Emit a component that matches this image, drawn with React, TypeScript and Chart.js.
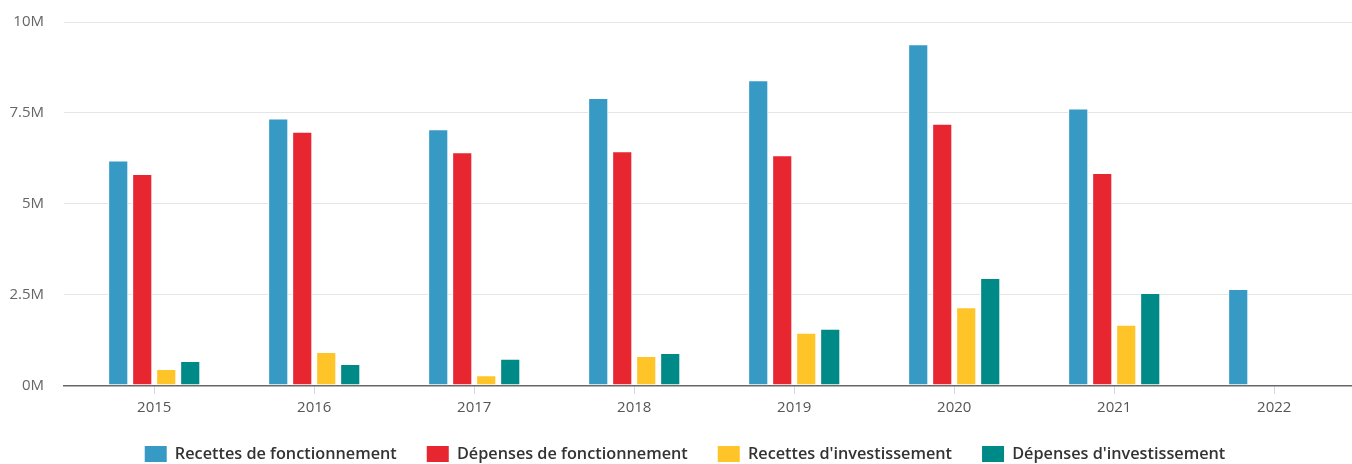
import React, { useEffect, useRef } from "react";
import { Chart, registerables } from "chart.js";

Chart.register(...registerables);

const years = ["2015", "2016", "2017", "2018", "2019", "2020", "2021", "2022"];
const recettesFonctionnement = [6.19, 7.35, 7.05, 7.91, 8.4, 9.39, 7.62, 2.66];
const depensesFonctionnement = [5.82, 6.98, 6.42, 6.45, 6.34, 7.2, 5.85];
const recettesInvestissement = [0.46, 0.93, 0.29, 0.82, 1.46, 2.16, 1.68];
const depensesInvestissement = [0.68, 0.6, 0.74, 0.9, 1.57, 2.96, 2.55];
const seriesNames = [
  "Recettes de fonctionnement",
  "Dépenses de fonctionnement",
  "Recettes d'investissement",
  "Dépenses d'investissement",
];
const seriesColors = ["#379ac4", "#e8262f", "#ffc428", "#008a87"];
const yTicks = [0, 2.5, 5, 7.5, 10];

const FONT = "'Open Sans', 'DejaVu Sans', sans-serif";

const legendShift = {
  id: "legendShift",
  beforeDraw(chart: any) {
    if (chart.legend) chart.legend.left = 18;
  },
};

export default function App() {
  const ref = useRef<HTMLCanvasElement | null>(null);

  useEffect(() => {
    if (!ref.current) return;
    const all = [
      recettesFonctionnement,
      depensesFonctionnement,
      recettesInvestissement,
      depensesInvestissement,
    ];
    const chart = new Chart(ref.current, {
      type: "bar",
      data: {
        datasets: all.map((vals, k) => ({
          label: seriesNames[k],
          data: vals.map((v, i) => ({ x: i, y: v * 1e6 })),
          backgroundColor: seriesColors[k],
          borderColor: "#ffffff",
          borderWidth: 1,
          borderSkipped: false,
          categoryPercentage: 0.6,
          barPercentage: 0.84,
        })),
      },
      plugins: [legendShift],
      options: {
        animation: false,
        responsive: true,
        maintainAspectRatio: false,
        layout: { padding: { left: 0, right: 0, top: 22, bottom: -8 } },
        plugins: {
          tooltip: { enabled: false },
          legend: {
            position: "bottom",
            labels: {
              boxWidth: 22,
              boxHeight: 16,
              padding: 30,
              color: "#333333",
              font: { family: FONT, size: 16.25, weight: 600 },
              generateLabels: (c: any) =>
                Chart.defaults.plugins.legend.labels
                  .generateLabels(c)
                  .map((l: any) => ({ ...l, lineWidth: 0 })),
            },
          },
        },
        scales: {
          x: {
            type: "linear",
            offset: false,
            min: -0.564,
            max: 7.486,
            afterFit: (s: any) => {
              s.height = 30;
            },
            grid: {
              offset: false,
              drawOnChartArea: false,
              drawTicks: true,
              tickLength: 8,
              color: "#ccd6eb",
              lineWidth: 1,
            },
            border: { display: true, color: "#666666", width: 1.5 },
            ticks: {
              stepSize: 1,
              includeBounds: false,
              padding: 5,
              color: "#555555",
              font: { family: FONT, size: 15 },
              callback: (v: any) => years[Number(v)] ?? "",
            },
          },
          y: {
            min: 0,
            max: 10e6,
            afterFit: (s: any) => {
              s.width = 64;
              s.paddingTop = 0;
              s.paddingBottom = 0;
            },
            afterBuildTicks: (s: any) => {
              s.ticks = yTicks.map((t) => ({ value: t * 1e6 }));
            },
            grid: { color: "#e6e6e6", lineWidth: 1, drawTicks: false },
            border: { display: false },
            ticks: {
              padding: 20,
              color: "#666666",
              font: { family: FONT, size: 15 },
              callback: (v: any) => Number(v) / 1e6 + "M",
            },
          },
        },
      },
    });
    return () => chart.destroy();
  }, []);

  return (
    <div
      style={{
        position: "absolute",
        left: 0,
        top: 0,
        width: 1352,
        height: 464,
        overflow: "hidden",
        background: "#ffffff",
      }}
    >
      <canvas ref={ref} />
    </div>
  );
}
